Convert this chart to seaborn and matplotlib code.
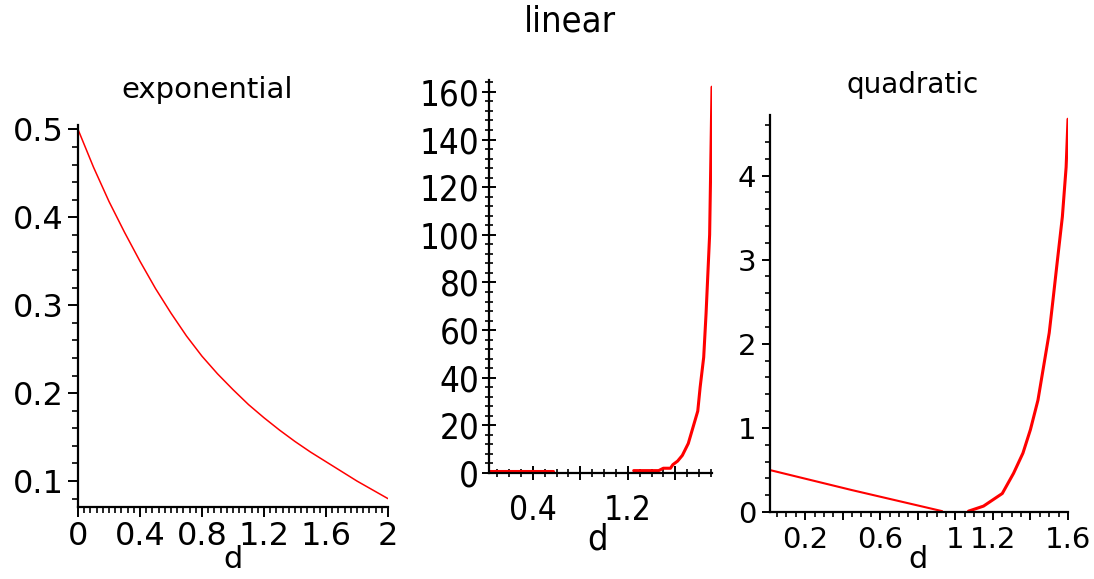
import numpy as np
import matplotlib
matplotlib.use("Agg")
import matplotlib.pyplot as plt
import seaborn as sns
from matplotlib.ticker import MultipleLocator, FixedLocator

sns.set_style("ticks")
plt.rcParams['font.family'] = ['DejaVu Sans']
plt.rcParams['text.color'] = 'black'
plt.rcParams['xtick.color'] = 'black'
plt.rcParams['ytick.color'] = 'black'

# exponential panel
exp_d = [0.0, 0.1, 0.2, 0.3, 0.4, 0.5, 0.6, 0.7, 0.8, 0.9, 1.0,
         1.1, 1.2, 1.3, 1.4, 1.5, 1.6, 1.7, 1.8, 1.9, 2.0]
exp_val = [0.500, 0.457, 0.418, 0.383, 0.350, 0.319, 0.291, 0.265, 0.242, 0.222, 0.204,
           0.187, 0.172, 0.158, 0.145, 0.133, 0.122, 0.111, 0.100, 0.090, 0.080]

# linear panel: two pieces
lin_d_a = [0.03, 0.57]
lin_val_a = [1.0, 1.0]
lin_d_b = [1.25, 1.46, 1.50, 1.56, 1.58, 1.62, 1.66, 1.71, 1.75, 1.79,
           1.81, 1.84, 1.86, 1.89, 1.91]
lin_val_b = [1.0, 1.0, 2.0, 2.0, 3.5, 5.0, 7.4, 12.4, 19.2, 26.0,
             36.0, 48.6, 67.0, 100.0, 162.0]

# quadratic panel: two pieces
quad_d_a = [0.01, 0.45, 0.93]
quad_val_a = [0.50, 0.26, 0.01]
quad_d_b = [1.07, 1.15, 1.25, 1.31, 1.36, 1.40, 1.44, 1.47, 1.50, 1.52,
            1.54, 1.57, 1.59, 1.60]
quad_val_b = [0.01, 0.07, 0.22, 0.46, 0.70, 0.98, 1.33, 1.73, 2.13, 2.52,
              2.92, 3.51, 4.10, 4.67]

RED = "#ff0000"
W, H = 1094, 579
NARROW = dict(family='DejaVu Sans', stretch='condensed')


def px_axes(fig, left, right, top, bottom):
    return fig.add_axes([left / W, (H - bottom) / H, (right - left) / W, (bottom - top) / H])


def style_axes(ax):
    sns.despine(ax=ax)
    for s in ['left', 'bottom']:
        ax.spines[s].set_linewidth(1.6)
        ax.spines[s].set_color('black')
    ax.set_xlabel('')
    ax.set_ylabel('')
    ax.margins(0)


fig = plt.figure(figsize=(W / 100, H / 100), dpi=100)

# ---- exponential ----
ax1 = px_axes(fig, 78, 388, 125, 507)
sns.lineplot(x=exp_d, y=exp_val, ax=ax1, color=RED, linewidth=1.1)
style_axes(ax1)
ax1.set_xlim(0, 2)
ax1.set_ylim(0.0705, 0.505)
ax1.xaxis.set_major_locator(FixedLocator([0, 0.4, 0.8, 1.2, 1.6, 2.0]))
ax1.set_xticklabels(['0', '0.4', '0.8', '1.2', '1.6', '2'])
ax1.xaxis.set_minor_locator(MultipleLocator(0.04))
ax1.yaxis.set_major_locator(FixedLocator([0.1, 0.2, 0.3, 0.4, 0.5]))
ax1.set_yticklabels(['0.1', '0.2', '0.3', '0.4', '0.5'])
ax1.yaxis.set_minor_locator(MultipleLocator(0.02))
ax1.tick_params(which='major', length=7, width=1.4, labelsize=23, pad=3)
ax1.tick_params(which='minor', length=4, width=1.2)
fig.text(207 / W, 1 - 90 / H, 'exponential', ha='center', va='center', fontsize=21)
fig.text(233 / W, 1 - 560 / H, 'd', ha='center', va='center', fontsize=22)

# ---- linear ----
ax2 = px_axes(fig, 489, 712, 80, 473)
sns.lineplot(x=lin_d_a, y=lin_val_a, ax=ax2, color=RED, linewidth=2.2)
sns.lineplot(x=lin_d_b, y=lin_val_b, ax=ax2, color=RED, linewidth=2.2)
style_axes(ax2)
ax2.set_xlim(0.03, 1.91)
ax2.set_ylim(0, 165)
ax2.xaxis.set_major_locator(FixedLocator([0.4, 0.8, 1.2, 1.6]))
ax2.set_xticklabels(['0.4', '', '1.2', ''], fontsize=24, **NARROW)
ax2.xaxis.set_minor_locator(MultipleLocator(0.1))
ax2.set_yticks(list(range(0, 161, 20)))
ax2.set_yticklabels([str(v) for v in range(0, 161, 20)], fontsize=25, **NARROW)
ax2.yaxis.set_minor_locator(MultipleLocator(4))
ax2.tick_params(which='major', direction='inout', length=10, width=1.4, pad=2)
ax2.tick_params(which='minor', direction='inout', length=6, width=1.2)
ax2.tick_params(axis='x', which='major', pad=10)
fig.text(570 / W, 1 - 22 / H, 'linear', ha='center', va='center', fontsize=26, **NARROW)
fig.text(598 / W, 1 - 540 / H, 'd', ha='center', va='center', fontsize=26, **NARROW)

# ---- quadratic ----
ax3 = px_axes(fig, 770, 1068, 115, 512)
sns.lineplot(x=quad_d_a, y=quad_val_a, ax=ax3, color=RED, linewidth=1.5)
sns.lineplot(x=quad_d_b, y=quad_val_b, ax=ax3, color=RED, linewidth=2.2)
style_axes(ax3)
ax3.set_xlim(0.013, 1.6)
ax3.set_ylim(0, 4.72)
ax3.xaxis.set_major_locator(FixedLocator([0.2, 0.4, 0.6, 0.8, 1.0, 1.2, 1.4, 1.6]))
ax3.set_xticklabels(['0.2', '', '0.6', '', '1', '1.2', '', '1.6'])
ax3.xaxis.set_minor_locator(MultipleLocator(0.05))
ax3.yaxis.set_major_locator(FixedLocator([0, 1, 2, 3, 4]))
ax3.set_yticklabels(['0', '1', '2', '3', '4'])
ax3.yaxis.set_minor_locator(MultipleLocator(0.2))
ax3.tick_params(which='major', length=6, width=1.4, labelsize=21, pad=4)
ax3.tick_params(which='minor', length=3.5, width=1.2)
fig.text(913 / W, 1 - 85 / H, 'quadratic', ha='center', va='center', fontsize=20)
fig.text(918 / W, 1 - 560 / H, 'd', ha='center', va='center', fontsize=22)

fig.savefig('out.png', dpi=100, facecolor='white')
